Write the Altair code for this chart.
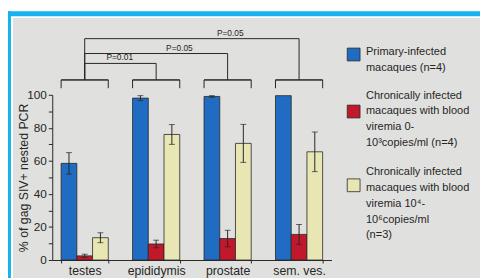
import altair as alt
import pandas as pd

# ---------------- data ----------------
categories = ["testes", "epididymis", "prostate", "sem. ves."]
series = ["primary", "chronic_low", "chronic_high"]
primary_vals = [58.5, 98, 99, 99.5]
primary_err = [6.5, 1.5, 0.5, 0]
low_vals = [2.5, 9.7, 13, 15.5]
low_err = [1, 2.3, 5, 6]
high_vals = [13.5, 76, 70.6, 65.5]
high_err = [3, 6, 11.5, 12]

legend_texts = [
    "Primary-infected\nmacaques (n=4)",
    "Chronically infected\nmacaques with blood\nviremia 0-\n10³copies/ml (n=4)",
    "Chronically infected\nmacaques with blood\nviremia 10⁴-\n10⁶copies/ml\n(n=3)",
]

comp_from = ["testes", "testes", "testes"]
comp_to = ["epididymis", "prostate", "sem. ves."]
comp_p = ["P=0.01", "P=0.05", "P=0.05"]
comp_level = [119, 125, 134]
bracket_top = 109
bracket_leg = 104
y_ticks = [0, 10, 20, 30, 40, 50, 60, 70, 80, 90, 100]

# ---------------- tables ----------------
rows = []
for vals, errs, s in [(primary_vals, primary_err, series[0]),
                      (low_vals, low_err, series[1]),
                      (high_vals, high_err, series[2])]:
    for c, v, e in zip(categories, vals, errs):
        rows.append({"cat": c, "series": s, "value": v, "err": e,
                     "lo": v - e, "hi": v + e})
bars_df = pd.DataFrame(rows)
err_df = bars_df[bars_df["err"] > 0]

br_df = pd.DataFrame({"cat": categories,
                      "top": [bracket_top] * 4,
                      "leg": [bracket_leg] * 4})
comp_df = pd.DataFrame({"from": comp_from, "to": comp_to, "p": comp_p,
                        "level": comp_level, "top": [bracket_top] * 3})
leg_df = pd.DataFrame({"series": series, "text": legend_texts})
one = pd.DataFrame({"a": [0]})

# ---------------- styles ----------------
FONT = "Liberation Sans"
INK = "#262626"
colors = ["#1f6cc2", "#c2182c", "#e8e6b2"]
color_scale = alt.Scale(domain=series, range=colors)
x_scale = alt.Scale(domain=categories, paddingInner=0.34, paddingOuter=0.124)
y_scale = alt.Scale(domain=[0, 100], nice=False, zero=True)
off_scale = alt.Scale(domain=series, paddingInner=0, paddingOuter=0)

x_axis = alt.Axis(labelAngle=0, tickBand="extent", tickSize=3,
                  labelPadding=2, labelFontSize=12.5, labelFont=FONT,
                  labelColor=INK, domainColor=INK, tickColor=INK,
                  grid=False, title=None, zindex=2)
y_axis = alt.Axis(values=y_ticks,
                  labelExpr="datum.value % 20 == 0 ? datum.label : ''",
                  tickSize=4, labelPadding=2, labelFontSize=12,
                  labelFont=FONT, labelColor=INK, domainColor=INK,
                  tickColor=INK, grid=False,
                  title="% of gag SIV+ nested PCR", titleFont=FONT,
                  titleFontSize=12.5, titleFontWeight="normal",
                  titleColor=INK, titleX=-29, titleY=84,
                  titleAngle=-90, titleBaseline="middle",
                  titleAlign="center", zindex=2)

W, H = 284, 168


def xf(field, **kw):
    return alt.X(f"{field}:N", scale=x_scale, axis=x_axis, title=None, **kw)


def yf(field):
    return alt.Y(f"{field}:Q", scale=y_scale, axis=y_axis,
                 title="% of gag SIV+ nested PCR")


# frame (cyan border + gray slide)
frame_top = alt.Chart(one).mark_rect(color="#17b3ef").encode(
    x=alt.value(-45), x2=alt.value(435), y=alt.value(-85), y2=alt.value(-80))
frame_left = alt.Chart(one).mark_rect(color="#17b3ef").encode(
    x=alt.value(-45), x2=alt.value(-42), y=alt.value(-85), y2=alt.value(200))
panel = alt.Chart(one).mark_rect(color="#e0e1de").encode(
    x=alt.value(-40), x2=alt.value(440), y=alt.value(-78), y2=alt.value(200))

bars = alt.Chart(bars_df).mark_bar(stroke=INK, strokeWidth=0.8).encode(
    x=xf("cat"),
    xOffset=alt.XOffset("series:N", sort=series, scale=off_scale),
    y=yf("value"),
    color=alt.Color("series:N", scale=color_scale, legend=None),
)

err_rule = alt.Chart(err_df).mark_rule(color=INK, strokeWidth=1).encode(
    x=xf("cat"),
    xOffset=alt.XOffset("series:N", sort=series, scale=off_scale),
    y=yf("lo"), y2="hi")
err_hi = alt.Chart(err_df).mark_tick(color=INK, thickness=1, size=6).encode(
    x=xf("cat"), xOffset=alt.XOffset("series:N", sort=series, scale=off_scale),
    y=yf("hi"))
err_lo = alt.Chart(err_df).mark_tick(color=INK, thickness=1, size=6).encode(
    x=xf("cat"), xOffset=alt.XOffset("series:N", sort=series, scale=off_scale),
    y=yf("lo"))

# group brackets
br_h = alt.Chart(br_df).mark_bar(fillOpacity=0, stroke=INK, strokeWidth=1).encode(
    x=xf("cat"), y=yf("top"), y2="top")
br_l = alt.Chart(br_df).mark_rule(color=INK, strokeWidth=1).encode(
    x=xf("cat", bandPosition=0), y=yf("leg"), y2="top")
br_r = alt.Chart(br_df).mark_rule(color=INK, strokeWidth=1).encode(
    x=xf("cat", bandPosition=1), y=yf("leg"), y2="top")

# comparison lines
c_from = alt.Chart(comp_df).mark_rule(color=INK, strokeWidth=1).encode(
    x=xf("from"), y=yf("top"), y2="level")
c_to = alt.Chart(comp_df).mark_rule(color=INK, strokeWidth=1).encode(
    x=xf("to"), y=yf("top"), y2="level")
c_h = alt.Chart(comp_df).mark_rule(color=INK, strokeWidth=1).encode(
    x=xf("from"), x2="to", y=yf("level"))

label_dx = [-37, -49, -70]
c_labels = []
for i, dx in enumerate(label_dx):
    c_labels.append(
        alt.Chart(comp_df.iloc[[i]]).mark_text(
            baseline="bottom", align="center", dx=dx, dy=-1, fontSize=8.5,
            font=FONT, color=INK).encode(x=xf("to"), y=yf("level"), text="p:N"))

# legend (custom, multi-line)
sw_y = [-41, 17, 92]
txt_y = [-49, -5, 73]
legend_layers = []
for s, sy, ty in zip(series, sw_y, txt_y):
    d = leg_df[leg_df["series"] == s]
    legend_layers.append(
        alt.Chart(d).mark_rect(stroke=INK, strokeWidth=0.8).encode(
            x=alt.value(300), x2=alt.value(313),
            y=alt.value(sy - 6.5), y2=alt.value(sy + 6.5),
            color=alt.Color("series:N", scale=color_scale, legend=None)))
    legend_layers.append(
        alt.Chart(d).mark_text(align="left", baseline="top", lineBreak="\n",
                               lineHeight=16, fontSize=11.2, font=FONT,
                               color=INK).encode(
            x=alt.value(319), y=alt.value(ty), text="text:N"))

chart = alt.layer(
    frame_top, frame_left, panel,
    bars, err_rule, err_hi, err_lo,
    br_h, br_l, br_r, c_from, c_to, c_h, *c_labels,
    *legend_layers,
).properties(
    width=W, height=H,
    autosize=alt.AutoSizeParams(type="none"),
    padding={"left": 45, "top": 86, "right": 151, "bottom": 16},
).configure_view(stroke=None).configure(background="white")

chart.save("out.html", embed_options={"renderer": "svg", "actions": False})
